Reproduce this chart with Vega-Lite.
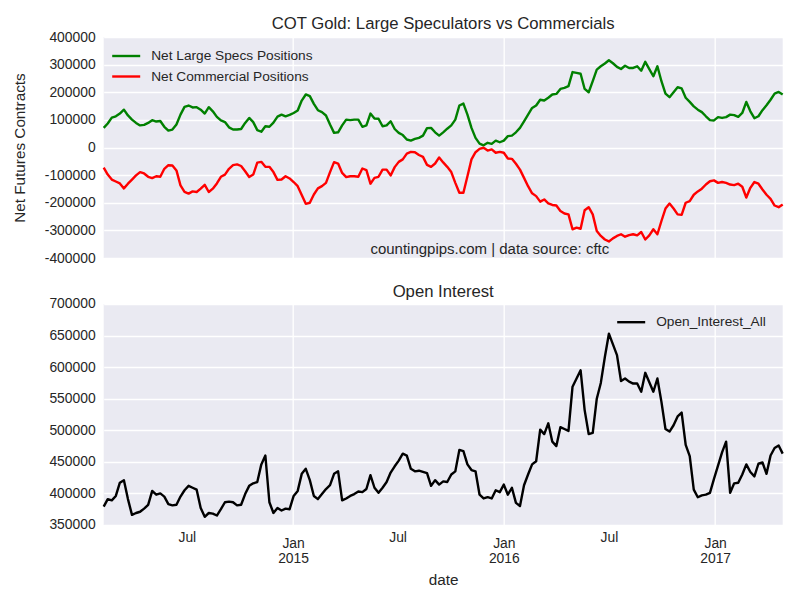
{
"$schema": "https://vega.github.io/schema/vega-lite/v6.json",
"padding": {"left": 11.7, "top": 16, "right": 18, "bottom": 5},
"background": "white",
"config": {
  "font": "Liberation Sans",
  "view": {"fill": "#EAEAF2", "stroke": null},
  "axis": {"domain": false, "ticks": false, "tickSize": 0, "gridColor": "white", "gridWidth": 1.3, "gridOpacity": 1, "labelFont": "Liberation Sans", "labelFontSize": 13.9, "labelColor": "#262626", "titleFont": "Liberation Sans", "titleFontSize": 15.3, "titleColor": "#262626", "titleFontWeight": "normal", "labelOverlap": false},
  "title": {"font": "Liberation Sans", "fontSize": 16.7, "fontWeight": "normal", "color": "#262626", "baseline": "alphabetic", "anchor": "middle"},
  "legend": {"labelFont": "Liberation Sans", "labelFontSize": 13.7, "labelColor": "#262626", "labelLimit": 300}
},
"datasets": {"cot": [
{"date":"2014-02-07","specs":71000,"comms":-73000,"oi":379000},
{"date":"2014-02-14","specs":87000,"comms":-98000,"oi":391000},
{"date":"2014-02-21","specs":108000,"comms":-116000,"oi":389000},
{"date":"2014-02-28","specs":113000,"comms":-123000,"oi":396000},
{"date":"2014-03-07","specs":123000,"comms":-130000,"oi":417000},
{"date":"2014-03-14","specs":137000,"comms":-148000,"oi":421000},
{"date":"2014-03-21","specs":116000,"comms":-131000,"oi":391000},
{"date":"2014-03-28","specs":101000,"comms":-116000,"oi":366000},
{"date":"2014-04-04","specs":89000,"comms":-101000,"oi":369000},
{"date":"2014-04-11","specs":80000,"comms":-89000,"oi":371000},
{"date":"2014-04-18","specs":82000,"comms":-94000,"oi":376000},
{"date":"2014-04-25","specs":89000,"comms":-106000,"oi":382000},
{"date":"2014-05-02","specs":99000,"comms":-111000,"oi":404000},
{"date":"2014-05-09","specs":94000,"comms":-104000,"oi":398000},
{"date":"2014-05-16","specs":96000,"comms":-106000,"oi":400000},
{"date":"2014-05-23","specs":75000,"comms":-77000,"oi":395000},
{"date":"2014-05-30","specs":61000,"comms":-64000,"oi":383000},
{"date":"2014-06-06","specs":65000,"comms":-65000,"oi":381000},
{"date":"2014-06-13","specs":83000,"comms":-83000,"oi":382000},
{"date":"2014-06-20","specs":119000,"comms":-137000,"oi":395000},
{"date":"2014-06-27","specs":147000,"comms":-161000,"oi":405000},
{"date":"2014-07-04","specs":152000,"comms":-167000,"oi":412000},
{"date":"2014-07-11","specs":145000,"comms":-159000,"oi":409000},
{"date":"2014-07-18","specs":146000,"comms":-161000,"oi":406000},
{"date":"2014-07-25","specs":137000,"comms":-149000,"oi":377000},
{"date":"2014-08-01","specs":123000,"comms":-135000,"oi":363000},
{"date":"2014-08-08","specs":146000,"comms":-161000,"oi":369000},
{"date":"2014-08-15","specs":131000,"comms":-149000,"oi":368000},
{"date":"2014-08-22","specs":111000,"comms":-130000,"oi":365000},
{"date":"2014-08-29","specs":98000,"comms":-106000,"oi":375000},
{"date":"2014-09-05","specs":92000,"comms":-98000,"oi":386000},
{"date":"2014-09-12","specs":73000,"comms":-77000,"oi":387000},
{"date":"2014-09-19","specs":65000,"comms":-64000,"oi":386000},
{"date":"2014-09-26","specs":65000,"comms":-61000,"oi":381000},
{"date":"2014-10-03","specs":67000,"comms":-67000,"oi":382000},
{"date":"2014-10-10","specs":89000,"comms":-86000,"oi":399000},
{"date":"2014-10-17","specs":107000,"comms":-107000,"oi":412000},
{"date":"2014-10-24","specs":92000,"comms":-98000,"oi":416000},
{"date":"2014-10-31","specs":63000,"comms":-55000,"oi":418000},
{"date":"2014-11-07","specs":57000,"comms":-52000,"oi":446000},
{"date":"2014-11-14","specs":77000,"comms":-70000,"oi":460000},
{"date":"2014-11-21","specs":75000,"comms":-70000,"oi":386000},
{"date":"2014-11-28","specs":90000,"comms":-89000,"oi":369000},
{"date":"2014-12-05","specs":112000,"comms":-117000,"oi":377000},
{"date":"2014-12-12","specs":119000,"comms":-116000,"oi":373000},
{"date":"2014-12-19","specs":113000,"comms":-104000,"oi":376000},
{"date":"2014-12-26","specs":118000,"comms":-112000,"oi":375000},
{"date":"2015-01-02","specs":125000,"comms":-125000,"oi":396000},
{"date":"2015-01-09","specs":134000,"comms":-140000,"oi":404000},
{"date":"2015-01-16","specs":170000,"comms":-172000,"oi":431000},
{"date":"2015-01-23","specs":192000,"comms":-204000,"oi":439000},
{"date":"2015-01-30","specs":186000,"comms":-200000,"oi":421000},
{"date":"2015-02-06","specs":158000,"comms":-170000,"oi":396000},
{"date":"2015-02-13","specs":135000,"comms":-148000,"oi":391000},
{"date":"2015-02-20","specs":128000,"comms":-140000,"oi":399000},
{"date":"2015-02-27","specs":116000,"comms":-128000,"oi":407000},
{"date":"2015-03-06","specs":83000,"comms":-89000,"oi":413000},
{"date":"2015-03-13","specs":53000,"comms":-53000,"oi":431000},
{"date":"2015-03-20","specs":55000,"comms":-58000,"oi":435000},
{"date":"2015-03-27","specs":80000,"comms":-92000,"oi":389000},
{"date":"2015-04-03","specs":101000,"comms":-107000,"oi":392000},
{"date":"2015-04-10","specs":99000,"comms":-104000,"oi":396000},
{"date":"2015-04-17","specs":101000,"comms":-104000,"oi":399000},
{"date":"2015-04-24","specs":101000,"comms":-106000,"oi":403000},
{"date":"2015-05-01","specs":75000,"comms":-76000,"oi":402000},
{"date":"2015-05-08","specs":80000,"comms":-82000,"oi":407000},
{"date":"2015-05-15","specs":123000,"comms":-131000,"oi":429000},
{"date":"2015-05-22","specs":105000,"comms":-110000,"oi":409000},
{"date":"2015-05-29","specs":104000,"comms":-106000,"oi":401000},
{"date":"2015-06-05","specs":77000,"comms":-80000,"oi":409000},
{"date":"2015-06-12","specs":80000,"comms":-80000,"oi":418000},
{"date":"2015-06-19","specs":95000,"comms":-101000,"oi":433000},
{"date":"2015-06-26","specs":67000,"comms":-71000,"oi":443000},
{"date":"2015-07-03","specs":53000,"comms":-52000,"oi":452000},
{"date":"2015-07-10","specs":45000,"comms":-43000,"oi":463000},
{"date":"2015-07-17","specs":29000,"comms":-22000,"oi":460000},
{"date":"2015-07-24","specs":25000,"comms":-16000,"oi":439000},
{"date":"2015-07-31","specs":31000,"comms":-17000,"oi":435000},
{"date":"2015-08-07","specs":35000,"comms":-27000,"oi":436000},
{"date":"2015-08-14","specs":43000,"comms":-34000,"oi":434000},
{"date":"2015-08-21","specs":70000,"comms":-63000,"oi":432000},
{"date":"2015-08-28","specs":71000,"comms":-70000,"oi":412000},
{"date":"2015-09-04","specs":55000,"comms":-58000,"oi":421000},
{"date":"2015-09-11","specs":43000,"comms":-36000,"oi":414000},
{"date":"2015-09-18","specs":55000,"comms":-54000,"oi":419000},
{"date":"2015-09-25","specs":68000,"comms":-70000,"oi":418000},
{"date":"2015-10-02","specs":80000,"comms":-89000,"oi":430000},
{"date":"2015-10-09","specs":101000,"comms":-128000,"oi":435000},
{"date":"2015-10-16","specs":152000,"comms":-164000,"oi":469000},
{"date":"2015-10-23","specs":159000,"comms":-164000,"oi":467000},
{"date":"2015-10-30","specs":119000,"comms":-104000,"oi":446000},
{"date":"2015-11-06","specs":71000,"comms":-43000,"oi":437000},
{"date":"2015-11-13","specs":35000,"comms":-17000,"oi":435000},
{"date":"2015-11-20","specs":14000,"comms":-5000,"oi":398000},
{"date":"2015-11-27","specs":8000,"comms":-1000,"oi":392000},
{"date":"2015-12-04","specs":17000,"comms":-11000,"oi":394000},
{"date":"2015-12-11","specs":13000,"comms":-7000,"oi":392000},
{"date":"2015-12-18","specs":25000,"comms":-19000,"oi":405000},
{"date":"2015-12-25","specs":19000,"comms":-16000,"oi":402000},
{"date":"2016-01-01","specs":25000,"comms":-19000,"oi":414000},
{"date":"2016-01-08","specs":41000,"comms":-40000,"oi":398000},
{"date":"2016-01-15","specs":43000,"comms":-41000,"oi":409000},
{"date":"2016-01-22","specs":55000,"comms":-59000,"oi":385000},
{"date":"2016-01-29","specs":71000,"comms":-80000,"oi":380000},
{"date":"2016-02-05","specs":95000,"comms":-110000,"oi":413000},
{"date":"2016-02-12","specs":119000,"comms":-140000,"oi":430000},
{"date":"2016-02-19","specs":143000,"comms":-166000,"oi":446000},
{"date":"2016-02-26","specs":152000,"comms":-176000,"oi":451000},
{"date":"2016-03-04","specs":173000,"comms":-196000,"oi":501000},
{"date":"2016-03-11","specs":170000,"comms":-188000,"oi":494000},
{"date":"2016-03-18","specs":180000,"comms":-202000,"oi":511000},
{"date":"2016-03-25","specs":192000,"comms":-208000,"oi":482000},
{"date":"2016-04-01","specs":194000,"comms":-210000,"oi":475000},
{"date":"2016-04-08","specs":212000,"comms":-230000,"oi":505000},
{"date":"2016-04-15","specs":216000,"comms":-239000,"oi":502000},
{"date":"2016-04-22","specs":222000,"comms":-242000,"oi":499000},
{"date":"2016-04-29","specs":273000,"comms":-296000,"oi":569000},
{"date":"2016-05-06","specs":270000,"comms":-290000,"oi":582000},
{"date":"2016-05-13","specs":267000,"comms":-294000,"oi":595000},
{"date":"2016-05-20","specs":212000,"comms":-227000,"oi":532000},
{"date":"2016-05-27","specs":200000,"comms":-216000,"oi":494000},
{"date":"2016-06-03","specs":240000,"comms":-242000,"oi":496000},
{"date":"2016-06-10","specs":282000,"comms":-302000,"oi":550000},
{"date":"2016-06-17","specs":294000,"comms":-320000,"oi":575000},
{"date":"2016-06-24","specs":304000,"comms":-333000,"oi":616000},
{"date":"2016-07-01","specs":316000,"comms":-340000,"oi":653000},
{"date":"2016-07-08","specs":305000,"comms":-329000,"oi":636000},
{"date":"2016-07-15","specs":292000,"comms":-320000,"oi":619000},
{"date":"2016-07-22","specs":284000,"comms":-314000,"oi":578000},
{"date":"2016-07-29","specs":296000,"comms":-323000,"oi":582000},
{"date":"2016-08-05","specs":288000,"comms":-317000,"oi":577000},
{"date":"2016-08-12","specs":288000,"comms":-314000,"oi":574000},
{"date":"2016-08-19","specs":294000,"comms":-318000,"oi":574000},
{"date":"2016-08-26","specs":278000,"comms":-306000,"oi":561000},
{"date":"2016-09-02","specs":310000,"comms":-333000,"oi":591000},
{"date":"2016-09-09","specs":284000,"comms":-318000,"oi":576000},
{"date":"2016-09-16","specs":258000,"comms":-296000,"oi":561000},
{"date":"2016-09-23","specs":294000,"comms":-314000,"oi":582000},
{"date":"2016-09-30","specs":240000,"comms":-266000,"oi":545000},
{"date":"2016-10-07","specs":195000,"comms":-221000,"oi":502000},
{"date":"2016-10-14","specs":182000,"comms":-203000,"oi":498000},
{"date":"2016-10-21","specs":200000,"comms":-221000,"oi":508000},
{"date":"2016-10-28","specs":218000,"comms":-242000,"oi":522000},
{"date":"2016-11-04","specs":214000,"comms":-244000,"oi":528000},
{"date":"2016-11-11","specs":180000,"comms":-200000,"oi":477000},
{"date":"2016-11-18","specs":165000,"comms":-194000,"oi":459000},
{"date":"2016-11-25","specs":149000,"comms":-171000,"oi":406000},
{"date":"2016-12-02","specs":137000,"comms":-159000,"oi":394000},
{"date":"2016-12-09","specs":128000,"comms":-149000,"oi":397000},
{"date":"2016-12-16","specs":113000,"comms":-134000,"oi":398000},
{"date":"2016-12-23","specs":99000,"comms":-122000,"oi":401000},
{"date":"2016-12-30","specs":98000,"comms":-119000,"oi":423000},
{"date":"2017-01-06","specs":110000,"comms":-128000,"oi":444000},
{"date":"2017-01-13","specs":107000,"comms":-125000,"oi":465000},
{"date":"2017-01-20","specs":110000,"comms":-128000,"oi":482000},
{"date":"2017-01-27","specs":119000,"comms":-134000,"oi":401000},
{"date":"2017-02-03","specs":117000,"comms":-136000,"oi":416000},
{"date":"2017-02-10","specs":111000,"comms":-131000,"oi":417000},
{"date":"2017-02-17","specs":125000,"comms":-142000,"oi":430000},
{"date":"2017-02-24","specs":165000,"comms":-181000,"oi":446000},
{"date":"2017-03-03","specs":131000,"comms":-146000,"oi":434000},
{"date":"2017-03-10","specs":106000,"comms":-125000,"oi":427000},
{"date":"2017-03-17","specs":113000,"comms":-131000,"oi":447000},
{"date":"2017-03-24","specs":135000,"comms":-152000,"oi":449000},
{"date":"2017-03-31","specs":153000,"comms":-171000,"oi":431000},
{"date":"2017-04-07","specs":173000,"comms":-186000,"oi":460000},
{"date":"2017-04-14","specs":195000,"comms":-210000,"oi":472000},
{"date":"2017-04-21","specs":201000,"comms":-216000,"oi":476000},
{"date":"2017-04-28","specs":192000,"comms":-206000,"oi":463000}
]},
"spacing": 46,
"bounds": "flush",
"resolve": {"scale": {"color": "independent"}, "legend": {"color": "independent"}},
"vconcat": [
  {
    "width": 679, "height": 221,
    "title": {"text": "COT Gold: Large Speculators vs Commercials", "offset": -3},
    "layer": [
      {
        "data": {"name": "cot"},
        "transform": [{"fold": ["specs", "comms"], "as": ["series", "value"]}],
        "mark": {"type": "line", "strokeWidth": 2.4, "strokeJoin": "round"},
        "encoding": {
          "x": {"field": "date", "type": "temporal", "scale": {"type": "utc", "nice": false},
                "axis": {"title": null, "labels": false, "grid": true,
                         "values": [{"year": 2015, "month": 1, "date": 1, "utc": true}, {"year": 2016, "month": 1, "date": 1, "utc": true}, {"year": 2017, "month": 1, "date": 1, "utc": true}]}},
          "y": {"field": "value", "type": "quantitative", "scale": {"domain": [-400000, 400000], "nice": false},
                "axis": {"title": "Net Futures Contracts", "values": [-400000, -300000, -200000, -100000, 0, 100000, 200000, 300000, 400000], "tickCount": 9,
                         "labelExpr": "'' + datum.value", "labelPadding": 8.5, "titleX": -79, "titleBaseline": "alphabetic"}},
          "color": {"field": "series", "type": "nominal",
                    "scale": {"domain": ["specs", "comms"], "range": ["#008000", "#FF0000"]},
                    "legend": {"title": null, "orient": "none", "legendX": 14, "legendY": 10.5, "padding": 0,
                               "symbolType": "M-2,0H2", "symbolSize": 196, "symbolStrokeWidth": 2.4,
                               "labelOffset": 16.5, "rowPadding": 4.5,
                               "labelExpr": "datum.label == 'specs' ? 'Net Large Specs Positions' : 'Net Commercial Positions'"}}
        }
      },
      {
        "data": {"values": [{"note": "countingpips.com | data source: cftc"}]},
        "mark": {"type": "text", "align": "left", "baseline": "middle", "fontSize": 15, "color": "#262626", "font": "Liberation Sans"},
        "encoding": {
          "x": {"datum": {"year": 2015, "month": 5, "date": 15, "utc": true}, "type": "temporal"},
          "y": {"datum": -368000, "type": "quantitative"},
          "text": {"field": "note"}
        }
      }
    ]
  },
  {
    "width": 679, "height": 221,
    "title": {"text": "Open Interest", "offset": -3.5},
    "data": {"name": "cot"},
    "transform": [{"fold": ["oi"], "as": ["series", "value"]}],
    "mark": {"type": "line", "strokeWidth": 2.4, "strokeJoin": "round"},
    "encoding": {
      "x": {"field": "date", "type": "temporal", "scale": {"type": "utc", "nice": false},
            "axis": {"title": "date", "titleY": 60, "titleBaseline": "alphabetic",
                     "values": [{"year": 2014, "month": 7, "date": 1, "utc": true}, {"year": 2015, "month": 1, "date": 1, "utc": true}, {"year": 2015, "month": 7, "date": 1, "utc": true}, {"year": 2016, "month": 1, "date": 1, "utc": true}, {"year": 2016, "month": 7, "date": 1, "utc": true}, {"year": 2017, "month": 1, "date": 1, "utc": true}],
                     "labelExpr": "utcmonth(datum.value) == 0 ? [utcFormat(datum.value, '%b'), utcFormat(datum.value, '%Y')] : utcFormat(datum.value, '%b')",
                     "labelLineHeight": 14.5,
                     "labelPadding": {"condition": {"test": "utcmonth(datum.value) == 0", "value": 12}, "value": 6},
                     "gridOpacity": {"condition": {"test": "utcmonth(datum.value) == 0", "value": 1}, "value": 0}}},
      "y": {"field": "value", "type": "quantitative", "scale": {"domain": [350000, 700000], "nice": false},
            "axis": {"title": null, "values": [350000, 400000, 450000, 500000, 550000, 600000, 650000, 700000],
                     "labelExpr": "'' + datum.value", "labelPadding": 8.5}},
      "color": {"field": "series", "type": "nominal",
                "scale": {"domain": ["oi"], "range": ["#000000"]},
                "legend": {"title": null, "orient": "none", "legendX": 519, "legendY": 9.7, "padding": 0,
                           "symbolType": "M-2,0H2", "symbolSize": 196, "symbolStrokeWidth": 2.4,
                           "labelOffset": 16.5, "labelExpr": "'Open_Interest_All'"}}
    }
  }
]
}
